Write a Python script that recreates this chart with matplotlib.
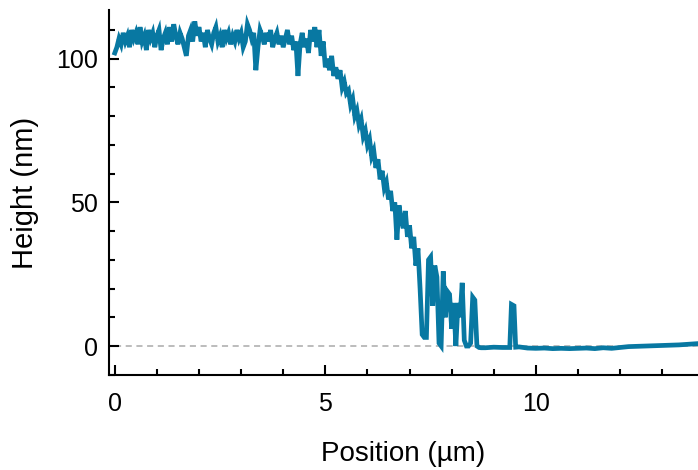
import numpy as np
import matplotlib
matplotlib.use("Agg")
import matplotlib.pyplot as plt
from matplotlib.ticker import MultipleLocator

plt.rcParams['font.family'] = ['Liberation Sans', 'DejaVu Sans']

STEP = 0.05  # um entre muestras del perfil

# meseta 0.00 - 4.75 um
h_plateau = [102, 104, 107, 105, 109, 106, 108, 104, 110, 107,
             109, 105, 111, 106, 108, 103, 110, 107, 109, 104,
             108, 110, 103, 107, 109, 105, 111, 106, 112, 108,
             105, 109, 107, 104, 101, 108, 110, 106, 113, 108,
             111, 106, 109, 104, 110, 107, 105, 109, 111, 106,
             108, 104, 110, 107, 109, 105, 108, 106, 110, 107,
             109, 104, 106, 112, 110, 107, 109, 96, 104, 110,
             108, 105, 109, 106, 110, 104, 107, 109, 105, 108,
             104, 107, 110, 105, 108, 103, 106, 94, 105, 109,
             104, 107, 102, 110, 106, 111]

# caida del escalon 4.80 - 7.20 um
h_slope = [104, 110, 101, 106, 97, 100, 96, 101, 94, 97,
           93, 96, 90, 92, 88, 89, 84, 86, 80, 82,
           77, 79, 73, 75, 70, 72, 66, 68, 62, 65,
           58, 61, 55, 57, 51, 54, 47, 50, 37, 49,
           44, 41, 47, 38, 42, 34, 38, 28, 34]

# picos al pie del escalon 7.25 - 8.70 um
h_edge = [20, 4, 3, 3, 30, 31, 14, 28, 24, 1,
          0, 26, 10, 19, 18, 6, 15, 0, 15, 10,
          22, 2, 0, 0, 1, 17, 16, 0, -0.5, -0.6]

# sustrato plano con un pico aislado
pos_flat = [8.8, 9.0, 9.2, 9.38, 9.42, 9.48, 9.52, 9.6, 9.8, 10.0,
            10.2, 10.4, 10.6, 10.8, 11.0, 11.2, 11.4, 11.6, 11.8, 12.0,
            12.2, 12.4, 12.6, 12.8, 13.0, 13.2, 13.4, 13.6, 13.8, 13.9]
h_flat = [-0.6, -0.4, -0.5, -0.5, 14.5, 14, -0.4, -0.3, -0.7, -0.8,
          -0.7, -0.9, -0.8, -0.9, -0.8, -0.7, -0.9, -0.6, -0.8, -0.5,
          -0.2, -0.1, 0.0, 0.1, 0.2, 0.3, 0.4, 0.6, 0.8, 0.9]

h_step = np.array(h_plateau + h_slope + h_edge, dtype=float)
pos_step = np.arange(len(h_step)) * STEP

x = np.concatenate([pos_step, pos_flat])
h = np.concatenate([h_step, h_flat])

fig = plt.figure(figsize=(6.98, 4.70), dpi=100)
ax = fig.add_axes([0.156, 0.202, 0.844, 0.777])

ax.hlines(0, 0, 13.85, colors='#aaaaaa', linestyles=(0, (4, 3)), lw=1.1, zorder=1)
ax.plot(x, h, color='#0878a2', lw=3.4, zorder=2, solid_joinstyle='miter')

ax.set_xlim(-0.14, 13.85)
ax.set_ylim(-10.1, 117)

ax.xaxis.set_major_locator(MultipleLocator(5))
ax.xaxis.set_minor_locator(MultipleLocator(1))
ax.yaxis.set_major_locator(MultipleLocator(50))
ax.yaxis.set_minor_locator(MultipleLocator(10))

for s in ['top', 'right']:
    ax.spines[s].set_visible(False)
for s in ['left', 'bottom']:
    ax.spines[s].set_linewidth(1.5)

ax.tick_params(which='major', direction='in', length=7, width=1.5, labelsize=18)
ax.tick_params(which='minor', direction='in', length=4.5, width=1.5)
ax.tick_params(axis='x', which='major', pad=12)
ax.tick_params(axis='y', which='major', pad=8)

ax.set_xlabel('Position (µm)', fontsize=20, labelpad=18)
ax.set_ylabel('Height (nm)', fontsize=21, labelpad=12)

fig.savefig('out.png', dpi=100)
